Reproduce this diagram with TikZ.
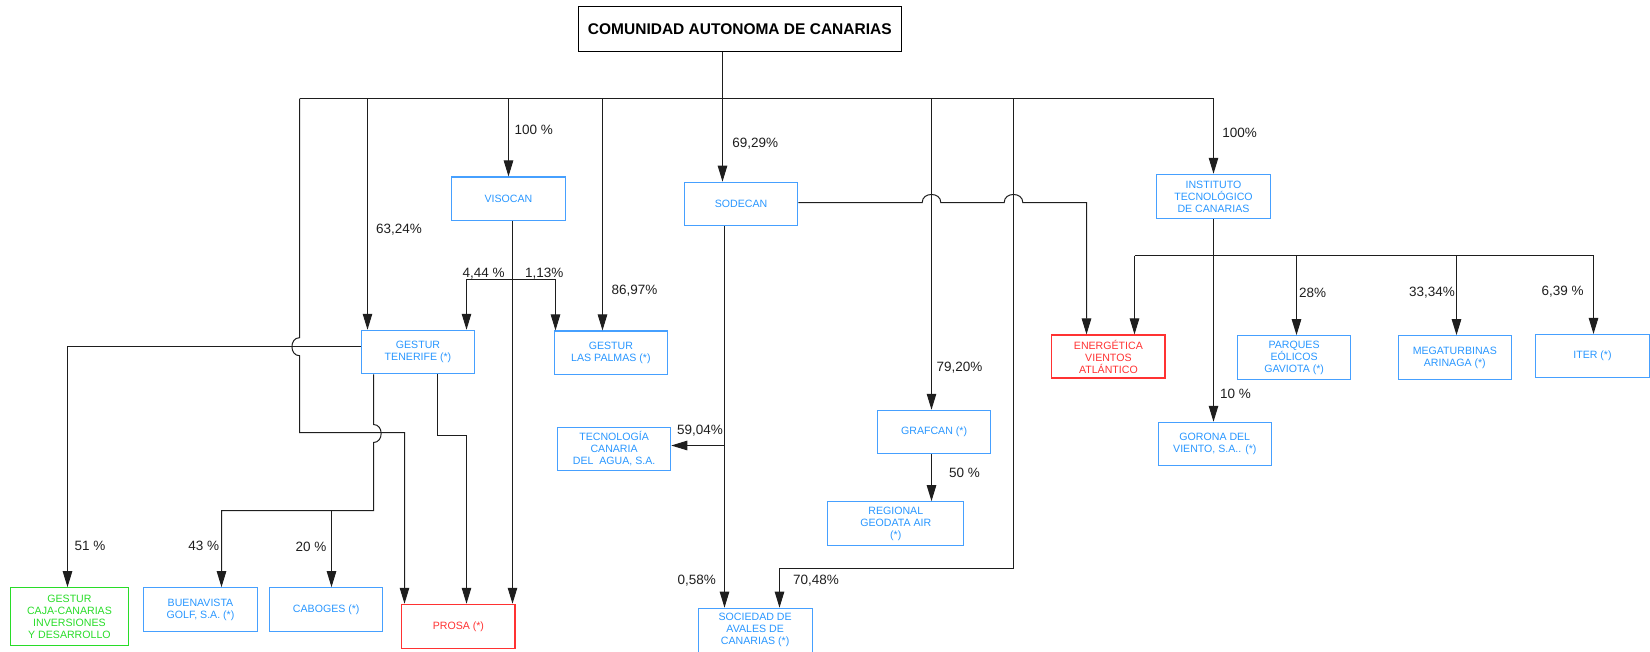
\documentclass[tikz,border=0pt]{standalone}
\usepackage{fontspec}
\setmainfont{Liberation Sans}
\usetikzlibrary{arrows.meta}
\definecolor{bluetx}{RGB}{40,150,255}
\definecolor{bluebd}{RGB}{70,160,255}
\definecolor{redtx}{RGB}{255,50,50}
\definecolor{greentx}{RGB}{40,220,40}
\definecolor{linecol}{RGB}{30,30,30}
\tikzset{
  boxb/.style={draw=bluebd, text=bluetx, line width=1.1pt, minimum width=113.2pt, minimum height=43.4pt, inner sep=0pt, align=center, font=\fontsize{10.6pt}{12pt}\selectfont},
  boxr/.style={boxb, draw=redtx, text=redtx},
  boxg/.style={boxb, draw=greentx, text=greentx},
  lab/.style={anchor=west, inner sep=0pt, text height=9.7pt, text depth=0pt, font=\fontsize{13.5pt}{15pt}\selectfont, text=linecol},
  conn/.style={draw=linecol, line width=1pt},
  arr/.style={conn, -{Triangle[length=16pt,width=9.5pt]}}
}
\begin{document}
\begin{tikzpicture}[x=1pt,y=-1pt]
\useasboundingbox (0,0) rectangle (1650,651);
% title
\node[draw=black, line width=1.4pt, minimum width=323.2pt, minimum height=44.6pt, inner sep=0pt, font=\fontsize{15.5pt}{18pt}\selectfont\bfseries] (cac) at (739.8,29) {COMUNIDAD AUTONOMA DE CANARIAS};
% boxes
\node[boxb] (visocan) at (508.5,198.7) {VISOCAN};
\node[boxb] (sodecan) at (741.1,203.9) {SODECAN};
\node[boxb, minimum height=44.4pt] (instituto) at (1213.5,196.5) {INSTITUTO\\TECNOLÓGICO\\DE CANARIAS};
\node[boxb] (gt) at (418,352) {GESTUR\\TENERIFE (*)};
\node[boxb] (glp) at (610.9,352.7) {GESTUR\\LAS PALMAS (*)};
\node[boxr, minimum height=43pt] (energetica) at (1108.4,356.5) {ENERGÉTICA\\VIENTOS\\ATLÁNTICO};
\node[boxb] (parques) at (1294.1,357.4) {PARQUES\\EÓLICOS\\GAVIOTA (*)};
\node[boxb] (mega) at (1454.8,357.4) {MEGATURBINAS\\ARINAGA (*)};
\node[boxb] (iter) at (1592.5,356.2) {ITER (*)};
\node[boxb] (tecno) at (614.1,448.8) {TECNOLOGÍA\\CANARIA\\DEL\ \ AGUA, S.A.};
\node[boxb] (grafcan) at (934.1,432) {GRAFCAN (*)};
\node[boxb] (gorona) at (1214.8,444) {GORONA DEL\\VIENTO, S.A.. (*)};
\node[boxb, minimum width=135.7pt, minimum height=44pt] (regional) at (895.75,523.7) {REGIONAL\\GEODATA AIR\\(*)};
\node[boxg, minimum width=117.5pt, minimum height=57.6pt] (gcaja) at (69.45,616.5) {GESTUR\\CAJA-CANARIAS\\INVERSIONES\\Y DESARROLLO};
\node[boxb, minimum height=43.6pt] (buenavista) at (200.5,609.5) {BUENAVISTA\\GOLF, S.A. (*)};
\node[boxb, minimum height=43.6pt] (caboges) at (326.25,609.5) {CABOGES (*)};
\node[boxr, minimum height=44pt] (prosa) at (458.4,626.3) {PROSA (*)};
\node[boxb, minimum width=113.9pt, minimum height=44pt] (sociedad) at (755.15,630.2) {SOCIEDAD DE\\AVALES DE\\CANARIAS (*)};
% coordinates
\coordinate (xT) at (722.5,0);
\coordinate (b1) at (299.5,98.5);
\coordinate (b2) at (367.5,98.5);
\coordinate (b3) at (508.5,98.5);
\coordinate (b4) at (602.5,98.5);
\coordinate (b6) at (931.5,98.5);
\coordinate (b7) at (1013.5,98.5);
\coordinate (b8) at (1213.5,98.5);
% trunk and bus
\draw[arr] (cac.south -| xT) -- (sodecan.north -| xT);
\draw[conn] (b1) -- (b8);
\draw[arr] (b2) -- (b2 |- gt.north);
\draw[arr] (b3) -- (b3 |- visocan.north);
\draw[arr] (b4) -- (b4 |- glp.north);
\draw[arr] (b6) -- (b6 |- grafcan.north);
\draw[arr] (b8) -- (b8 |- instituto.north);
% left loop to PROSA
\coordinate (pA) at (404.5,432.5);
\draw[arr] (b1) -- (299.5,337.7) .. controls (289.4,337.7) and (289.4,355.7) .. (299.5,355.7) -- (299.5,432.5) -- (pA) -- (pA |- prosa.north);
% GT to GESTUR CAJA
\coordinate (cG) at (67.5,346.5);
\draw[arr] ([yshift=5.5pt]gt.west) -- (cG) -- (cG |- gcaja.north);
% GT to BUENAVISTA and CABOGES
\coordinate (gB) at (373.5,510.5);
\coordinate (bv) at (221.5,510.5);
\coordinate (cb) at (331.5,510.5);
\draw[arr] (gt.south -| gB) -- (373.5,424.5) .. controls (383.7,424.5) and (383.7,442.5) .. (373.5,442.5) -- (gB) -- (bv) -- (bv |- buenavista.north);
\draw[arr] (cb) -- (cb |- caboges.north);
% GT to PROSA
\coordinate (gP) at (437.5,435.5);
\coordinate (gQ) at (466.5,435.5);
\draw[arr] (gt.south -| gP) -- (gP) -- (gQ) -- (gQ |- prosa.north);
% VISOCAN
\coordinate (vO) at (512.5,279.5);
\coordinate (brL) at (466.5,279.5);
\coordinate (brR) at (555.5,279.5);
\draw[arr] (visocan.south -| vO) -- (vO |- prosa.north);
\draw[arr] (vO) -- (brL) -- (brL |- gt.north);
\draw[arr] (vO) -- (brR) -- (brR |- glp.north);
% SODECAN to ENERGETICA
\coordinate (eS) at (1086.5,202.5);
\draw[arr] ([yshift=1.4pt]sodecan.east) -- (922.2,202.5) .. controls (922.2,191.8) and (940.8,191.8) .. (940.8,202.5) -- (1004.2,202.5) .. controls (1004.2,191.8) and (1022.8,191.8) .. (1022.8,202.5) -- (eS) -- (eS |- energetica.north);
% SODECAN down
\coordinate (sT) at (724.5,445.5);
\draw[arr] (sodecan.south -| sT) -- (sT |- sociedad.north);
\draw[arr] (sT) -- (sT -| tecno.east);
% GRAFCAN to REGIONAL
\coordinate (gR) at (931.5,0);
\draw[arr] (grafcan.south -| gR) -- (gR |- regional.north);
% 70,48%
\coordinate (sV) at (1013.5,568.5);
\coordinate (sW) at (779.5,568.5);
\draw[arr] (b7) -- (sV) -- (sW) -- (sW |- sociedad.north);
% INSTITUTO
\coordinate (iJ) at (1213.5,0);
\coordinate (iL) at (1134.5,255.5);
\coordinate (iR) at (1593.5,255.5);
\coordinate (iP) at (1296.5,255.5);
\coordinate (iM) at (1456.5,255.5);
\draw[arr] (instituto.south -| iJ) -- (iJ |- gorona.north);
\draw[conn] (iL) -- (iR);
\draw[arr] (iL) -- (iL |- energetica.north);
\draw[arr] (iP) -- (iP |- parques.north);
\draw[arr] (iM) -- (iM |- mega.north);
\draw[arr] (iR) -- (iR |- iter.north);
% labels
\node[lab] (l1) at (514.3,129.3) {100 \%};
\node[lab] (l2) at (376,228.7) {63,24\%};
\node[lab] (l3) at (732.1,142.7) {69,29\%};
\node[lab] (l4) at (462.5,272.3) {4,44 \%};
\node[lab] (l5) at (525,272.3) {1,13\%};
\node[lab] (l6) at (611.4,289.3) {86,97\%};
\node[lab] (l7) at (74.3,545.7) {51 \%};
\node[lab] (l8) at (188.2,545.7) {43 \%};
\node[lab] (l9) at (295.4,546.7) {20 \%};
\node[lab] (l10) at (676.8,429.3) {59,04\%};
\node[lab] (l11) at (677.5,580) {0,58\%};
\node[lab] (l12) at (792.9,580) {70,48\%};
\node[lab] (l13) at (936.4,366.7) {79,20\%};
\node[lab] (l14) at (948.9,472.7) {50 \%};
\node[lab] (l15) at (1222.1,132.7) {100\%};
\node[lab] (l16) at (1298.9,292.3) {28\%};
\node[lab] (l17) at (1408.9,291.3) {33,34\%};
\node[lab] (l18) at (1541.4,290.3) {6,39 \%};
\node[lab] (l19) at (1220,393.3) {10 \%};
\end{tikzpicture}
\end{document}
